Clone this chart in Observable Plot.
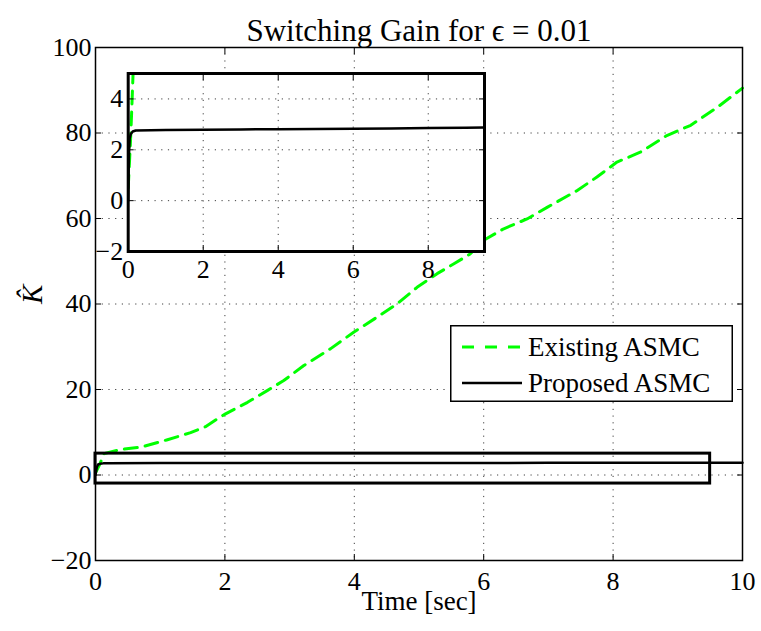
<!DOCTYPE html>
<html><head><meta charset="utf-8">
<script src="https://cdn.jsdelivr.net/npm/d3@7"></script>
<script src="https://cdn.jsdelivr.net/npm/@observablehq/plot@0.6"></script>
<style>
body{margin:0;background:#fff;}
#wrap{position:relative;width:761px;height:631px;overflow:hidden;}
#wrap svg{position:absolute;overflow:visible;}
#wrap svg, #wrap svg text{font-family:"Liberation Serif","Times New Roman","DejaVu Serif",serif !important;}
</style></head><body><div id="wrap"></div>
<script>
// ---- data ----
const timeExisting = [0, 0.06, 0.09, 0.13, 0.4, 0.7, 1.1, 1.47, 1.7, 1.88, 2.01, 2.35, 2.66, 2.91, 3.22, 3.63, 3.99, 4.35, 4.66, 4.97, 5.28, 5.54, 5.79, 6.0, 6.31, 6.67, 6.98, 7.44, 7.75, 8.06, 8.42, 8.83, 9.2, 9.61, 10];
const kExisting    = [0.5, 2.3, 3.4, 5.0, 6.0, 6.5, 8.2, 9.9, 11.3, 13.1, 14.3, 17.0, 19.8, 22.1, 25.6, 29.5, 33.4, 36.9, 40.0, 43.9, 47.1, 49.4, 51.7, 54.9, 57.6, 59.9, 62.6, 66.5, 69.7, 73.2, 75.5, 79.4, 81.8, 86.0, 90.5];
const timeProposed = [0, 0.02, 0.04, 0.07, 0.12, 0.2, 1, 2, 3, 4, 5, 6, 7, 8, 9, 10];
const kProposed    = [0, 1.8, 2.45, 2.62, 2.72, 2.76, 2.78, 2.79, 2.8, 2.81, 2.82, 2.83, 2.84, 2.86, 2.87, 2.88];
const seriesNames = ["Existing ASMC", "Proposed ASMC"];
const seriesColors = ["#00ff00", "#000000"];
const xTicks = [0, 2, 4, 6, 8, 10];
const yTicks = [-20, 0, 20, 40, 60, 80, 100];
const insetXTicks = [0, 2, 4, 6, 8];
const insetYTicks = [-2, 0, 2, 4];
const zoomX = [0, 9.5];
const zoomY = [-2, 5];
const titleText = "Switching Gain for \u03F5 = 0.01";
const xLabel = "Time [sec]";
const yLabel = "K\u0302";

const existing = timeExisting.map((t, i) => ({t, k: kExisting[i]}));
const proposed = timeProposed.map((t, i) => ({t, k: kProposed[i]}));
const zoomRect = [{x1: zoomX[0], x2: zoomX[1], y1: zoomY[0], y2: zoomY[1]}];

const FONT = "'Liberation Serif', 'Times New Roman', serif";
const grid = {stroke: "#000", strokeOpacity: 0.75, strokeWidth: 1, strokeDasharray: "1.2,5.5"};
const wrap = document.getElementById("wrap");

// ---- main chart ----
const main = Plot.plot({
  width: 761, height: 631,
  marginTop: 47, marginRight: 19, marginBottom: 71, marginLeft: 95,
  style: {fontFamily: FONT, fontSize: "25px", background: "transparent", color: "#000"},
  x: {domain: [0, 10]},
  y: {domain: [-20, 100]},
  marks: [
    Plot.gridX(xTicks, grid),
    Plot.gridY(yTicks, grid),
    Plot.line(existing, {x: "t", y: "k", stroke: seriesColors[0], strokeWidth: 3, strokeDasharray: "13,8"}),
    Plot.line(proposed, {x: "t", y: "k", stroke: seriesColors[1], strokeWidth: 2.5}),
    Plot.rect(zoomRect, {x1: "x1", x2: "x2", y1: "y1", y2: "y2", fill: "none", stroke: "#000", strokeWidth: 3}),
    Plot.frame({stroke: "#000", strokeWidth: 1.5}),
    Plot.axisX(xTicks, {anchor: "bottom", tickSize: -6, text: null, label: null}),
    Plot.axisX(xTicks, {anchor: "top", tickSize: -6, text: null, label: null}),
    Plot.axisY(yTicks, {anchor: "left", tickSize: -6, text: null, label: null}),
    Plot.axisY(yTicks, {anchor: "right", tickSize: -6, text: null, label: null}),
    Plot.axisX(xTicks, {anchor: "bottom", tickSize: 0, tickPadding: 11, fontSize: 26, label: null}),
    Plot.axisY(yTicks, {anchor: "left", tickSize: 0, tickPadding: 4, fontSize: 26, label: null}),
    Plot.text([titleText], {frameAnchor: "top", dy: -29, fontSize: 31}),
    Plot.text([xLabel], {frameAnchor: "bottom", dy: 49, fontSize: 27}),
    Plot.text([yLabel], {frameAnchor: "left", dx: -63, rotate: -90, fontSize: 29, fontStyle: "italic"})
  ]
});
main.style.left = "0px"; main.style.top = "0px";
wrap.appendChild(main);

// ---- inset ----
const IL = 60, IT = 55, IW = 440, IH = 240;
const inset = Plot.plot({
  width: IW, height: IH,
  marginTop: 73 - IT, marginRight: IL + IW - 484, marginBottom: IT + IH - 251, marginLeft: 127.7 - IL,
  style: {fontFamily: FONT, fontSize: "25px", background: "transparent", color: "#000"},
  x: {domain: zoomX},
  y: {domain: zoomY},
  marks: [
    Plot.frame({fill: "#fff", stroke: "none"}),
    Plot.gridX(insetXTicks, grid),
    Plot.gridY(insetYTicks, grid),
    Plot.line(existing, {x: "t", y: "k", stroke: seriesColors[0], strokeWidth: 3, strokeDasharray: "13,8", clip: true}),
    Plot.line(proposed, {x: "t", y: "k", stroke: seriesColors[1], strokeWidth: 2.5, clip: true}),
    Plot.frame({stroke: "#000", strokeWidth: 3}),
    Plot.axisX(insetXTicks, {anchor: "bottom", tickSize: -6, text: null, label: null}),
    Plot.axisX(insetXTicks, {anchor: "top", tickSize: -6, text: null, label: null}),
    Plot.axisY(insetYTicks, {anchor: "left", tickSize: -6, text: null, label: null}),
    Plot.axisY(insetYTicks, {anchor: "right", tickSize: -6, text: null, label: null}),
    Plot.axisX(insetXTicks, {anchor: "bottom", tickSize: 0, tickPadding: 8, fontSize: 26, label: null}),
    Plot.axisY(insetYTicks, {anchor: "left", tickSize: 0, tickPadding: 5, fontSize: 26, label: null})
  ]
});
inset.style.left = IL + "px"; inset.style.top = IT + "px";
wrap.appendChild(inset);

// ---- legend ----
const lg = d3.select(wrap).append("svg")
  .attr("width", 283).attr("height", 77)
  .style("left", "450px").style("top", "325px");
lg.append("rect").attr("x", 0.75).attr("y", 0.75).attr("width", 281.5).attr("height", 75.5)
  .attr("fill", "#fff").attr("stroke", "#000").attr("stroke-width", 1.5);
seriesNames.forEach((name, i) => {
  const cy = 22 + i * 36;
  lg.append("line").attr("x1", 12).attr("x2", 72).attr("y1", cy).attr("y2", cy)
    .attr("stroke", seriesColors[i]).attr("stroke-width", i === 0 ? 3 : 2.5)
    .attr("stroke-dasharray", i === 0 ? "12,11" : null);
  lg.append("text").attr("x", 78).attr("y", cy).attr("dy", "0.35em")
    .attr("font-size", 27).text(name);
});
</script>
</body></html>
